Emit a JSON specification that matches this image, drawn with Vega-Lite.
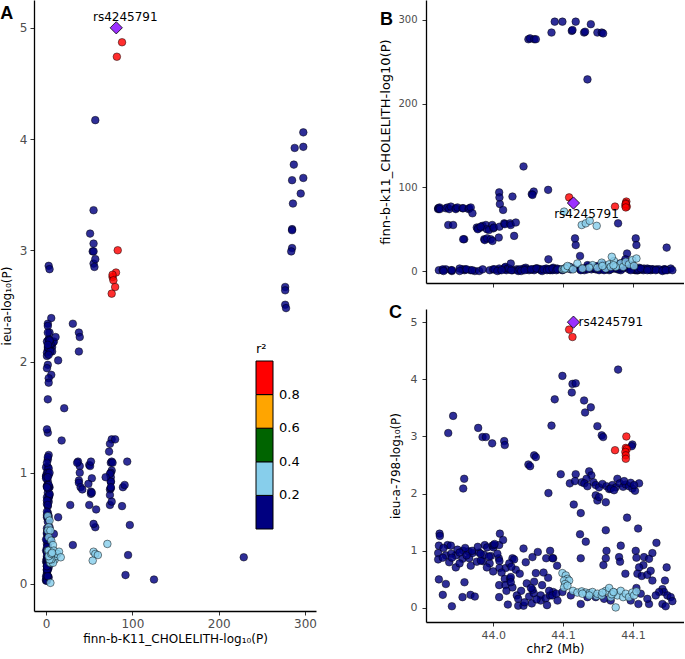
{
"$schema": "https://vega.github.io/schema/vega-lite/v6.json",
"padding": 0,
"background": "white",
"config": {
  "font": "DejaVu Sans",
  "view": {"stroke": null},
  "axis": {"domainColor": "black", "domainWidth": 1.3, "tickColor": "#333333", "tickSize": 4, "labelColor": "#4D4D4D", "labelFontSize": 12, "titleFontSize": 12, "titleFontWeight": "normal", "titleColor": "black", "grid": false, "labelPadding": 3, "titlePadding": 4}
},
"datasets": {
"lead": [{"pos": 44.0574, "finn": 81.3, "ieu": 5.0, "r2": 1, "snp": "rs4245791"}],
"snps": [
{"pos":43.9607,"finn":75,"ieu":0.96,"r2":0.1},{"pos":43.9607,"finn":74,"ieu":0.85,"r2":0.1},{"pos":43.9612,"finn":75,"ieu":1.09,"r2":0.1},{"pos":43.9617,"finn":76,"ieu":1.30,"r2":0.1},{"pos":43.9619,"finn":74,"ieu":1.26,"r2":0.1},{"pos":43.9662,"finn":75,"ieu":0.92,"r2":0.1},{"pos":43.9674,"finn":76,"ieu":1.10,"r2":0.1},{"pos":43.9686,"finn":74,"ieu":0.80,"r2":0.1},{"pos":43.9698,"finn":77,"ieu":1.09,"r2":0.1},{"pos":43.9733,"finn":75,"ieu":0.92,"r2":0.1},{"pos":43.9733,"finn":74,"ieu":0.71,"r2":0.1},{"pos":43.9745,"finn":76,"ieu":1.02,"r2":0.1},{"pos":43.9781,"finn":75,"ieu":0.86,"r2":0.1},{"pos":43.9786,"finn":75,"ieu":1.00,"r2":0.1},{"pos":43.9824,"finn":74,"ieu":0.99,"r2":0.1},{"pos":43.9829,"finn":75,"ieu":0.87,"r2":0.1},{"pos":43.9840,"finn":76,"ieu":0.74,"r2":0.1},{"pos":43.9852,"finn":69,"ieu":0.96,"r2":0.1},
{"pos":43.9679,"finn":55,"ieu":3.06,"r2":0.1},{"pos":43.9714,"finn":55,"ieu":3.36,"r2":0.1},{"pos":43.9793,"finn":38,"ieu":2.26,"r2":0.1},{"pos":43.9786,"finn":38,"ieu":2.09,"r2":0.1},
{"pos":43.9612,"finn":1,"ieu":0.50,"r2":0.1},{"pos":43.9662,"finn":2,"ieu":0.42,"r2":0.1},{"pos":43.9640,"finn":1,"ieu":0.23,"r2":0.1},{"pos":43.9705,"finn":0,"ieu":0.03,"r2":0.1},{"pos":43.9795,"finn":1,"ieu":0.45,"r2":0.1},{"pos":43.9781,"finn":2,"ieu":0.19,"r2":0.1},{"pos":43.9838,"finn":1,"ieu":0.23,"r2":0.1},{"pos":43.9869,"finn":0,"ieu":0.20,"r2":0.1},{"pos":43.9640,"finn":2,"ieu":0.88,"r2":0.1},{"pos":43.9700,"finn":1,"ieu":0.95,"r2":0.1},{"pos":43.9760,"finn":3,"ieu":0.78,"r2":0.1},{"pos":43.9800,"finn":2,"ieu":1.05,"r2":0.1},{"pos":43.9645,"finn":0,"ieu":1.05,"r2":0.1},{"pos":43.9705,"finn":1,"ieu":0.88,"r2":0.1},{"pos":43.9760,"finn":0,"ieu":0.97,"r2":0.1},{"pos":43.9810,"finn":2,"ieu":0.92,"r2":0.1},{"pos":43.9850,"finn":1,"ieu":1.00,"r2":0.1},{"pos":43.9900,"finn":0,"ieu":0.97,"r2":0.1},{"pos":43.9925,"finn":2,"ieu":0.82,"r2":0.1},{"pos":43.9975,"finn":1,"ieu":0.78,"r2":0.1},
{"pos":43.9883,"finn":52,"ieu":0.81,"r2":0.1},{"pos":43.9893,"finn":51,"ieu":3.15,"r2":0.1},{"pos":43.9912,"finn":52,"ieu":0.83,"r2":0.1},{"pos":43.9924,"finn":54,"ieu":2.99,"r2":0.1},{"pos":43.9936,"finn":38,"ieu":0.93,"r2":0.1},{"pos":43.9940,"finn":37,"ieu":1.10,"r2":0.1},{"pos":43.9948,"finn":55,"ieu":2.99,"r2":0.1},{"pos":43.9957,"finn":39,"ieu":1.06,"r2":0.1},{"pos":43.9955,"finn":50,"ieu":0.71,"r2":0.1},{"pos":43.9983,"finn":38,"ieu":0.91,"r2":0.1},{"pos":43.9993,"finn":55,"ieu":2.88,"r2":0.1},{"pos":43.9995,"finn":36,"ieu":1.09,"r2":0.1},{"pos":43.9890,"finn":50,"ieu":1.07,"r2":0.1},{"pos":43.9910,"finn":53,"ieu":0.95,"r2":0.1},{"pos":43.9970,"finn":49,"ieu":0.90,"r2":0.1},{"pos":44.0002,"finn":51,"ieu":1.06,"r2":0.1},{"pos":44.0005,"finn":52,"ieu":1.10,"r2":0.1},{"pos":44.0000,"finn":2,"ieu":0.64,"r2":0.1},{"pos":44.0043,"finn":1,"ieu":0.40,"r2":0.1},{"pos":44.0040,"finn":40,"ieu":0.87,"r2":0.1},{"pos":44.0045,"finn":53,"ieu":0.82,"r2":0.1},{"pos":44.0048,"finn":80,"ieu":1.30,"r2":0.1},{"pos":44.0043,"finn":94,"ieu":1.10,"r2":0.1},{"pos":44.0045,"finn":88,"ieu":0.70,"r2":0.1},{"pos":44.0043,"finn":3,"ieu":0.19,"r2":0.1},{"pos":44.0071,"finn":73,"ieu":1.19,"r2":0.1},{"pos":44.0079,"finn":57,"ieu":2.92,"r2":0.1},{"pos":44.0083,"finn":56,"ieu":2.85,"r2":0.1},{"pos":44.0083,"finn":4,"ieu":0.51,"r2":0.1},{"pos":44.0090,"finn":2,"ieu":0.70,"r2":0.1},{"pos":44.0088,"finn":5,"ieu":0.40,"r2":0.1},{"pos":44.0095,"finn":1,"ieu":0.30,"r2":0.1},{"pos":44.0138,"finn":89,"ieu":0.87,"r2":0.1},{"pos":44.0121,"finn":57,"ieu":0.51,"r2":0.1},{"pos":44.0126,"finn":55,"ieu":0.54,"r2":0.1},{"pos":44.0150,"finn":42,"ieu":0.85,"r2":0.1},{"pos":44.0138,"finn":1,"ieu":0.36,"r2":0.1},{"pos":44.0105,"finn":3,"ieu":0.06,"r2":0.1},{"pos":44.0162,"finn":58,"ieu":0.67,"r2":0.1},{"pos":44.0169,"finn":2,"ieu":0.22,"r2":0.1},{"pos":44.0179,"finn":1,"ieu":0.16,"r2":0.1},{"pos":44.0179,"finn":0,"ieu":0.04,"r2":0.1},{"pos":44.0217,"finn":125,"ieu":0.04,"r2":0.1},{"pos":44.0217,"finn":3,"ieu":1.04,"r2":0.1},{"pos":44.0233,"finn":4,"ieu":0.80,"r2":0.1},{"pos":44.0240,"finn":2,"ieu":0.43,"r2":0.1},{"pos":44.0252,"finn":277,"ieu":2.51,"r2":0.1},{"pos":44.0264,"finn":278,"ieu":2.48,"r2":0.1},{"pos":44.0293,"finn":277,"ieu":2.67,"r2":0.1},{"pos":44.0305,"finn":277,"ieu":2.64,"r2":0.1},{"pos":44.0257,"finn":1,"ieu":0.20,"r2":0.1},{"pos":44.0276,"finn":92,"ieu":0.08,"r2":0.1},{"pos":44.0290,"finn":95,"ieu":0.26,"r2":0.1},{"pos":44.0281,"finn":91,"ieu":0.89,"r2":0.1},{"pos":44.0305,"finn":3,"ieu":0.61,"r2":0.1},{"pos":44.0281,"finn":2,"ieu":0.32,"r2":0.1},{"pos":44.0293,"finn":1,"ieu":0.46,"r2":0.1},{"pos":44.0319,"finn":3,"ieu":0.98,"r2":0.1},{"pos":44.0340,"finn":2,"ieu":0.22,"r2":0.1},{"pos":44.0340,"finn":1,"ieu":0.13,"r2":0.1},{"pos":44.0376,"finn":2,"ieu":0.17,"r2":0.1},{"pos":44.0379,"finn":3,"ieu":0.87,"r2":0.1},{"pos":44.0393,"finn":97,"ieu":0.53,"r2":0.1},{"pos":44.0407,"finn":2,"ieu":1.00,"r2":0.1},{"pos":44.0407,"finn":1,"ieu":0.22,"r2":0.1},{"pos":44.0429,"finn":4,"ieu":0.87,"r2":0.1},{"pos":44.0429,"finn":2,"ieu":0.28,"r2":0.1},{"pos":44.0395,"finn":14,"ieu":2.01,"r2":0.1},{"pos":44.0417,"finn":285,"ieu":3.19,"r2":0.1},{"pos":44.0440,"finn":298,"ieu":3.65,"r2":0.1},{"pos":44.0010,"finn":2,"ieu":1.12,"r2":0.1},{"pos":44.0030,"finn":0,"ieu":0.95,"r2":0.1},{"pos":44.0060,"finn":1,"ieu":0.62,"r2":0.1},{"pos":44.0115,"finn":3,"ieu":0.78,"r2":0.1},{"pos":44.0130,"finn":1,"ieu":0.72,"r2":0.1},{"pos":44.0190,"finn":2,"ieu":0.60,"r2":0.1},{"pos":44.0200,"finn":0,"ieu":0.30,"r2":0.1},{"pos":44.0225,"finn":1,"ieu":0.10,"r2":0.1},{"pos":44.0270,"finn":2,"ieu":0.35,"r2":0.1},{"pos":44.0310,"finn":3,"ieu":0.15,"r2":0.1},{"pos":44.0350,"finn":0,"ieu":0.40,"r2":0.1},{"pos":44.0360,"finn":2,"ieu":0.62,"r2":0.1},{"pos":44.0385,"finn":1,"ieu":0.05,"r2":0.1},{"pos":44.0126,"finn":9,"ieu":0.45,"r2":0.1},
{"pos":44.0495,"finn":298,"ieu":4.06,"r2":0.1},{"pos":44.0562,"finn":287,"ieu":3.77,"r2":0.1},{"pos":44.0567,"finn":288,"ieu":3.92,"r2":0.1},{"pos":44.0590,"finn":298,"ieu":3.93,"r2":0.1},{"pos":44.0650,"finn":285,"ieu":3.63,"r2":0.1},{"pos":44.0657,"finn":286,"ieu":3.42,"r2":0.1},{"pos":44.0698,"finn":295,"ieu":3.51,"r2":0.1},{"pos":44.0745,"finn":285,"ieu":3.18,"r2":0.1},{"pos":44.0776,"finn":285,"ieu":3.02,"r2":0.1},{"pos":44.0786,"finn":284,"ieu":2.99,"r2":0.1},{"pos":44.0674,"finn":229,"ieu":0.24,"r2":0.1},{"pos":44.0893,"finn":57,"ieu":4.17,"r2":0.1},{"pos":44.0995,"finn":3,"ieu":2.86,"r2":0.1},{"pos":44.0990,"finn":4,"ieu":2.83,"r2":0.1},
{"pos":44.0483,"finn":2,"ieu":2.34,"r2":0.1},{"pos":44.0548,"finn":5,"ieu":2.18,"r2":0.1},{"pos":44.0590,"finn":31,"ieu":2.34,"r2":0.1},{"pos":44.0585,"finn":39,"ieu":2.22,"r2":0.1},{"pos":44.0633,"finn":3,"ieu":2.20,"r2":0.1},{"pos":44.0686,"finn":6,"ieu":2.39,"r2":0.1},{"pos":44.0702,"finn":2,"ieu":2.32,"r2":0.1},{"pos":44.0667,"finn":4,"ieu":2.26,"r2":0.1},{"pos":44.0652,"finn":1,"ieu":2.18,"r2":0.1},{"pos":44.0674,"finn":7,"ieu":2.13,"r2":0.1},{"pos":44.0717,"finn":3,"ieu":2.20,"r2":0.1},{"pos":44.0733,"finn":5,"ieu":2.15,"r2":0.1},{"pos":44.0757,"finn":2,"ieu":2.11,"r2":0.1},{"pos":44.0781,"finn":8,"ieu":2.17,"r2":0.1},{"pos":44.0810,"finn":3,"ieu":2.13,"r2":0.1},{"pos":44.0829,"finn":1,"ieu":2.08,"r2":0.1},{"pos":44.0852,"finn":6,"ieu":2.15,"r2":0.1},{"pos":44.0876,"finn":4,"ieu":2.11,"r2":0.1},{"pos":44.0888,"finn":2,"ieu":2.26,"r2":0.1},{"pos":44.0905,"finn":9,"ieu":2.18,"r2":0.1},{"pos":44.0929,"finn":3,"ieu":2.12,"r2":0.1},{"pos":44.0948,"finn":5,"ieu":2.16,"r2":0.1},{"pos":44.0971,"finn":2,"ieu":2.13,"r2":0.1},{"pos":44.0995,"finn":7,"ieu":2.09,"r2":0.1},{"pos":44.1014,"finn":1,"ieu":2.05,"r2":0.1},{"pos":44.1043,"finn":4,"ieu":2.18,"r2":0.1},{"pos":44.0733,"finn":2,"ieu":1.97,"r2":0.1},{"pos":44.0745,"finn":6,"ieu":1.88,"r2":0.1},{"pos":44.0805,"finn":3,"ieu":1.85,"r2":0.1},{"pos":44.0757,"finn":1,"ieu":1.94,"r2":0.1},{"pos":44.0840,"finn":5,"ieu":2.09,"r2":0.1},{"pos":44.0864,"finn":3,"ieu":2.06,"r2":0.1},{"pos":44.0936,"finn":11,"ieu":2.22,"r2":0.1},{"pos":44.0983,"finn":4,"ieu":2.19,"r2":0.1},{"pos":44.1007,"finn":2,"ieu":2.15,"r2":0.1},
{"pos":44.0576,"finn":3,"ieu":1.81,"r2":0.1},{"pos":44.0626,"finn":2,"ieu":1.66,"r2":0.1},{"pos":44.0957,"finn":21,"ieu":1.58,"r2":0.1},{"pos":44.0805,"finn":2,"ieu":1.36,"r2":0.1},{"pos":44.1036,"finn":1,"ieu":1.39,"r2":0.1},{"pos":44.0621,"finn":18,"ieu":1.29,"r2":0.1},{"pos":44.0662,"finn":3,"ieu":1.16,"r2":0.1},{"pos":44.1167,"finn":2,"ieu":1.14,"r2":0.1},{"pos":44.0912,"finn":1,"ieu":1.09,"r2":0.1},{"pos":44.0810,"finn":4,"ieu":1.00,"r2":0.1},{"pos":44.1019,"finn":39,"ieu":1.00,"r2":0.1},{"pos":44.1024,"finn":31,"ieu":0.35,"r2":0.1},{"pos":44.1240,"finn":28,"ieu":0.71,"r2":0.1},{"pos":44.0945,"finn":14,"ieu":0.60,"r2":0.1},{"pos":44.0626,"finn":2,"ieu":0.87,"r2":0.1},{"pos":44.0805,"finn":3,"ieu":0.87,"r2":0.1},{"pos":44.0900,"finn":2,"ieu":0.89,"r2":0.1},{"pos":44.1024,"finn":1,"ieu":0.88,"r2":0.1},{"pos":44.1138,"finn":2,"ieu":0.96,"r2":0.1},{"pos":44.0457,"finn":3,"ieu":0.74,"r2":0.1},{"pos":44.0788,"finn":2,"ieu":0.75,"r2":0.1},{"pos":44.0907,"finn":4,"ieu":0.81,"r2":0.1},{"pos":44.1078,"finn":3,"ieu":0.89,"r2":0.1},{"pos":44.1114,"finn":2,"ieu":0.86,"r2":0.1},{"pos":44.1074,"finn":1,"ieu":0.75,"r2":0.1},{"pos":44.1043,"finn":2,"ieu":0.71,"r2":0.1},{"pos":44.1031,"finn":1,"ieu":0.60,"r2":0.1},{"pos":44.1062,"finn":2,"ieu":0.56,"r2":0.1},{"pos":44.1102,"finn":3,"ieu":0.58,"r2":0.1},{"pos":44.1126,"finn":1,"ieu":0.65,"r2":0.1},{"pos":44.1138,"finn":2,"ieu":0.48,"r2":0.1},{"pos":44.1228,"finn":2,"ieu":0.48,"r2":0.1},{"pos":44.1210,"finn":1,"ieu":0.33,"r2":0.1},{"pos":44.1221,"finn":2,"ieu":0.28,"r2":0.1},{"pos":44.1245,"finn":1,"ieu":0.22,"r2":0.1},{"pos":44.1269,"finn":3,"ieu":0.19,"r2":0.1},{"pos":44.1186,"finn":2,"ieu":0.28,"r2":0.1},{"pos":44.1162,"finn":1,"ieu":0.22,"r2":0.1},{"pos":44.1210,"finn":0,"ieu":0.07,"r2":0.1},{"pos":44.1233,"finn":1,"ieu":0.03,"r2":0.1},{"pos":44.1114,"finn":2,"ieu":0.07,"r2":0.1},{"pos":44.1281,"finn":1,"ieu":0.12,"r2":0.1},{"pos":44.0424,"finn":1,"ieu":0.87,"r2":0.1},{"pos":44.0400,"finn":2,"ieu":0.30,"r2":0.1},{"pos":44.0424,"finn":3,"ieu":0.22,"r2":0.1},{"pos":44.0452,"finn":1,"ieu":0.25,"r2":0.1},{"pos":44.0460,"finn":2,"ieu":0.13,"r2":0.1},{"pos":44.0495,"finn":1,"ieu":0.28,"r2":0.1},{"pos":44.0555,"finn":2,"ieu":0.22,"r2":0.1},{"pos":44.0626,"finn":1,"ieu":0.07,"r2":0.1},{"pos":44.0674,"finn":2,"ieu":0.19,"r2":0.1},{"pos":44.0733,"finn":3,"ieu":0.19,"r2":0.1},{"pos":44.0793,"finn":1,"ieu":0.16,"r2":0.1},{"pos":44.0840,"finn":2,"ieu":0.13,"r2":0.1},{"pos":44.0983,"finn":1,"ieu":0.13,"r2":0.1},{"pos":44.1038,"finn":2,"ieu":0.07,"r2":0.1},{"pos":44.1055,"finn":3,"ieu":0.25,"r2":0.1},{"pos":44.1102,"finn":1,"ieu":0.16,"r2":0.1},
{"pos":44.0495,"finn":2,"ieu":0.61,"r2":0.3},{"pos":44.0519,"finn":4,"ieu":0.57,"r2":0.3},{"pos":44.0531,"finn":3,"ieu":0.51,"r2":0.3},{"pos":44.0507,"finn":2,"ieu":0.48,"r2":0.3},{"pos":44.0543,"finn":5,"ieu":0.48,"r2":0.3},{"pos":44.0514,"finn":3,"ieu":0.42,"r2":0.3},{"pos":44.0507,"finn":71,"ieu":0.36,"r2":0.3},{"pos":44.0531,"finn":6,"ieu":0.39,"r2":0.3},{"pos":44.0571,"finn":2,"ieu":0.30,"r2":0.3},{"pos":44.0602,"finn":9,"ieu":0.27,"r2":0.3},{"pos":44.0633,"finn":55,"ieu":0.29,"r2":0.3},{"pos":44.0662,"finn":57,"ieu":0.27,"r2":0.3},{"pos":44.0690,"finn":60,"ieu":0.26,"r2":0.3},{"pos":44.0740,"finn":54,"ieu":0.21,"r2":0.3},{"pos":44.0710,"finn":7,"ieu":0.28,"r2":0.3},{"pos":44.0745,"finn":4,"ieu":0.25,"r2":0.3},{"pos":44.0776,"finn":10,"ieu":0.22,"r2":0.3},{"pos":44.0805,"finn":3,"ieu":0.30,"r2":0.3},{"pos":44.0829,"finn":8,"ieu":0.35,"r2":0.3},{"pos":44.0841,"finn":5,"ieu":0.19,"r2":0.3},{"pos":44.0864,"finn":12,"ieu":0.27,"r2":0.3},{"pos":44.0888,"finn":6,"ieu":0.22,"r2":0.3},{"pos":44.0912,"finn":9,"ieu":0.30,"r2":0.3},{"pos":44.0929,"finn":5,"ieu":0.19,"r2":0.3},{"pos":44.0948,"finn":11,"ieu":0.25,"r2":0.3},{"pos":44.0971,"finn":8,"ieu":0.19,"r2":0.3},{"pos":44.0995,"finn":13,"ieu":0.27,"r2":0.3},{"pos":44.1007,"finn":6,"ieu":0.22,"r2":0.3},{"pos":44.1024,"finn":15,"ieu":0.29,"r2":0.3},{"pos":44.0876,"finn":5,"ieu":0.01,"r2":0.3},{"pos":44.0686,"finn":4,"ieu":0.22,"r2":0.3},{"pos":44.0638,"finn":3,"ieu":0.25,"r2":0.3},{"pos":44.0781,"finn":6,"ieu":0.27,"r2":0.3},{"pos":44.0848,"finn":17,"ieu":0.24,"r2":0.3},{"pos":44.0860,"finn":7,"ieu":0.28,"r2":0.3},
{"pos":44.0543,"finn":88,"ieu":4.87,"r2":0.9},{"pos":44.0567,"finn":82,"ieu":4.74,"r2":0.9},{"pos":44.0871,"finn":77,"ieu":2.76,"r2":0.9},{"pos":44.0952,"finn":83,"ieu":3.00,"r2":0.9},{"pos":44.0948,"finn":81,"ieu":2.80,"r2":0.9},{"pos":44.0955,"finn":77,"ieu":2.78,"r2":0.9},{"pos":44.0945,"finn":78,"ieu":2.73,"r2":0.9},{"pos":44.0948,"finn":80,"ieu":2.67,"r2":0.9},{"pos":44.0948,"finn":76,"ieu":2.61,"r2":0.9}
]
},
"spacing": 62,
"resolve": {"scale": {"color": "independent"}, "legend": {"color": "independent"}},
"hconcat": [
{
  "width": 282, "height": 611,
  "title": {"text": "A", "anchor": "start", "frame": "bounds", "align": "left", "baseline": "top", "offset": -23, "fontSize": 18, "fontWeight": "bold", "font": "Liberation Sans", "color": "black"},
  "layer": [
    {"data": {"name": "snps"},
     "mark": {"type": "point", "shape": "circle", "filled": true, "size": 58, "stroke": "black", "strokeWidth": 0.6, "strokeOpacity": 0.8, "fillOpacity": 0.82},
     "encoding": {
       "x": {"field": "finn", "type": "quantitative", "scale": {"domain": [-14, 312.7], "nice": false, "zero": false}, "axis": {"values": [0, 100, 200, 300], "format": "d", "title": "finn-b-K11_CHOLELITH-log₁₀(P)"}},
       "y": {"field": "ieu", "type": "quantitative", "scale": {"domain": [-0.243, 5.25], "nice": false, "zero": false}, "axis": {"values": [0, 1, 2, 3, 4, 5], "format": "d", "title": "ieu-a-log₁₀(P)", "titlePadding": 6}},
       "color": {"field": "r2", "type": "quantitative", "scale": {"type": "threshold", "domain": [0.2, 0.4, 0.6, 0.8], "range": ["#000080", "#87CEEB", "#006400", "#FFA500", "#FF0000"]},
         "legend": {"type": "gradient", "title": "r²", "orient": "none", "legendX": 222, "legendY": 343, "direction": "vertical", "gradientLength": 168, "gradientThickness": 17, "gradientStrokeColor": "black", "gradientStrokeWidth": 1, "labelFontSize": 13, "labelColor": "black", "labelOffset": 6, "format": ".1f", "titleFontSize": 13, "titleFontWeight": "normal", "titleColor": "black"}}
     }},
    {"data": {"name": "lead"},
     "mark": {"type": "point", "shape": "diamond", "filled": true, "size": 150, "fill": "#9B30FF", "stroke": "black", "strokeWidth": 0.8, "opacity": 1},
     "encoding": {"x": {"field": "finn", "type": "quantitative"}, "y": {"field": "ieu", "type": "quantitative"}}},
    {"data": {"name": "lead"},
     "mark": {"type": "text", "align": "center", "baseline": "alphabetic", "dx": 9, "dy": -7, "fontSize": 12, "color": "black"},
     "encoding": {"x": {"field": "finn", "type": "quantitative"}, "y": {"field": "ieu", "type": "quantitative"}, "text": {"field": "snp"}}}
  ]
},
{
  "spacing": 16,
  "vconcat": [
  {
    "width": 258, "height": 283,
    "title": {"text": "B", "anchor": "start", "frame": "bounds", "align": "left", "baseline": "top", "offset": -29, "fontSize": 18, "fontWeight": "bold", "font": "Liberation Sans", "color": "black"},
    "layer": [
      {"data": {"name": "snps"},
       "mark": {"type": "point", "shape": "circle", "filled": true, "size": 58, "stroke": "black", "strokeWidth": 0.6, "strokeOpacity": 0.8, "fillOpacity": 0.82},
       "encoding": {
         "x": {"field": "pos", "type": "quantitative", "scale": {"domain": [43.952, 44.1364], "nice": false, "zero": false}, "axis": {"values": [44.0, 44.05, 44.1], "labels": false, "title": null}},
         "y": {"field": "finn", "type": "quantitative", "scale": {"domain": [-14.3, 323.9], "nice": false, "zero": false}, "axis": {"values": [0, 100, 200, 300], "format": "d", "labelFontSize": 10, "labelPadding": 5, "title": "finn-b-k11_CHOLELITH-log10(P)", "titleFontSize": 13, "titlePadding": 5}},
         "color": {"field": "r2", "type": "quantitative", "scale": {"type": "threshold", "domain": [0.2, 0.4, 0.6, 0.8], "range": ["#000080", "#87CEEB", "#006400", "#FFA500", "#FF0000"]}, "legend": null}
       }},
      {"data": {"name": "lead"},
       "mark": {"type": "point", "shape": "diamond", "filled": true, "size": 150, "fill": "#9B30FF", "stroke": "black", "strokeWidth": 0.8, "opacity": 1},
       "encoding": {"x": {"field": "pos", "type": "quantitative"}, "y": {"field": "finn", "type": "quantitative"}}},
      {"data": {"name": "lead"},
       "mark": {"type": "text", "align": "center", "baseline": "alphabetic", "dx": 13, "dy": 15, "fontSize": 12, "color": "black"},
       "encoding": {"x": {"field": "pos", "type": "quantitative"}, "y": {"field": "finn", "type": "quantitative"}, "text": {"field": "snp"}}}
    ]
  },
  {
    "width": 258, "height": 313,
    "title": {"text": "C", "anchor": "start", "frame": "bounds", "align": "left", "baseline": "top", "offset": -13, "fontSize": 18, "fontWeight": "bold", "font": "Liberation Sans", "color": "black"},
    "layer": [
      {"data": {"name": "snps"},
       "mark": {"type": "point", "shape": "circle", "filled": true, "size": 58, "stroke": "black", "strokeWidth": 0.6, "strokeOpacity": 0.8, "fillOpacity": 0.82},
       "encoding": {
         "x": {"field": "pos", "type": "quantitative", "scale": {"domain": [43.952, 44.1364], "nice": false, "zero": false}, "axis": {"values": [44.0, 44.05, 44.1], "labelExpr": "datum.value < 44.01 ? '44.0' : '44.1'", "labelFontSize": 11, "title": "chr2 (Mb)", "titlePadding": 3}},
         "y": {"field": "ieu", "type": "quantitative", "scale": {"domain": [-0.245, 5.23], "nice": false, "zero": false}, "axis": {"values": [0, 1, 2, 3, 4, 5], "format": "d", "labelFontSize": 11, "labelPadding": 5, "title": "ieu-a-798-log₁₀(P)", "titlePadding": 8}},
         "color": {"field": "r2", "type": "quantitative", "scale": {"type": "threshold", "domain": [0.2, 0.4, 0.6, 0.8], "range": ["#000080", "#87CEEB", "#006400", "#FFA500", "#FF0000"]}, "legend": null}
       }},
      {"data": {"name": "lead"},
       "mark": {"type": "point", "shape": "diamond", "filled": true, "size": 150, "fill": "#9B30FF", "stroke": "black", "strokeWidth": 0.8, "opacity": 1},
       "encoding": {"x": {"field": "pos", "type": "quantitative"}, "y": {"field": "ieu", "type": "quantitative"}}},
      {"data": {"name": "lead"},
       "mark": {"type": "text", "align": "left", "baseline": "middle", "dx": 5, "dy": 0, "fontSize": 12, "color": "black"},
       "encoding": {"x": {"field": "pos", "type": "quantitative"}, "y": {"field": "ieu", "type": "quantitative"}, "text": {"field": "snp"}}}
    ]
  }
  ]
}
]
}
